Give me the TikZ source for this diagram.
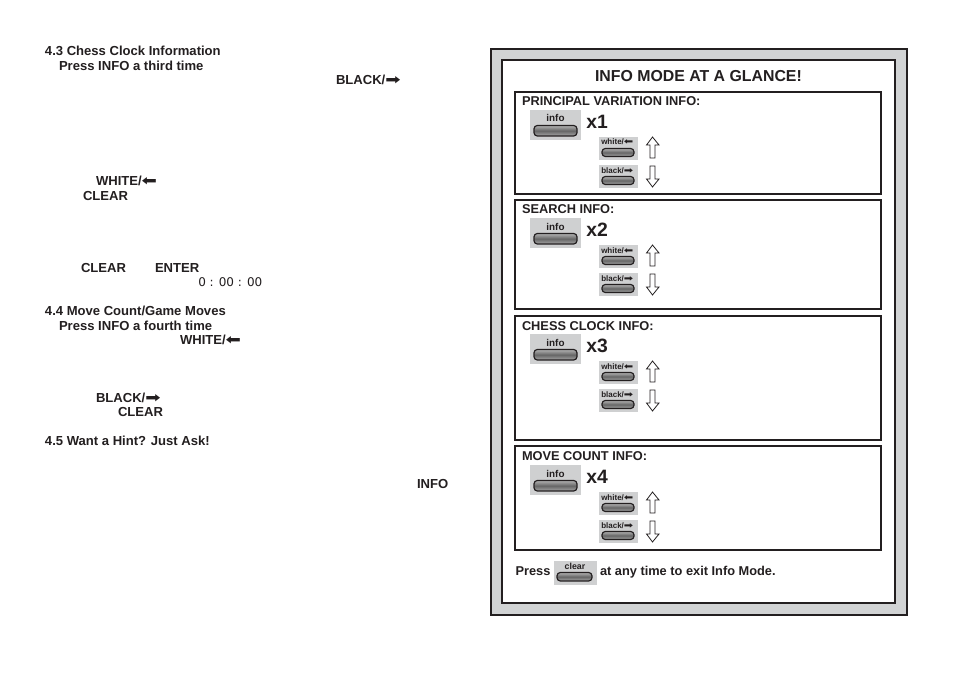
\documentclass[tikz,border=0pt]{standalone}
\usepackage{graphicx}
\usepackage{fontspec}
\setmainfont{Liberation Sans}
\newfontfamily\symf{DejaVu Sans}
\newfontfamily\lcdf{DejaVu Sans}
\definecolor{panelgray}{HTML}{D1D3D4}
\definecolor{btngray}{HTML}{CFD0D1}
\definecolor{inkk}{HTML}{231F20}
\tikzset{
  x=0.75pt,y=-0.75pt,
  txt/.style={anchor=base west,inner sep=0pt,outer sep=0pt,font=\bfseries\fontsize{9.8}{11}\selectfont,text=inkk},
  paneltitle/.style={txt,font=\bfseries\fontsize{9.6}{11}\selectfont},
  pane/.style={draw=inkk,line width=0.9pt,fill=white},
  btnbg/.style={fill=btngray,draw=none},
  btnbar/.style={draw=inkk,line width=0.9pt,rounded corners=2.5pt,top color=gray!60,bottom color=gray!70,middle color=black!60},
  btnlab/.style={anchor=base,inner sep=0pt,font=\bfseries\fontsize{7.4}{8}\selectfont,text=inkk},
  btnlabs/.style={anchor=base west,inner sep=0pt,font=\bfseries\fontsize{6}{7}\selectfont,text=inkk},
  hollow/.style={draw=inkk,line width=0.6pt,fill=white},
}
\newcommand{\larr}{\scalebox{1.4}[1.05]{\symf\char"2B05}}
\newcommand{\rarr}{\scalebox{1.4}[1.05]{\symf\char"27A1}}
% large info button at top y
\newcommand{\infobtn}[3]{%
  \fill[btnbg] (530,#1) rectangle (581,#1+30);
  \node[btnlab] (#2lab) at (555.5,#1+12) {info};
  \draw[btnbar] (534,#1+15.5) rectangle (577,#1+26);
  \node[anchor=base west,inner sep=0pt,font=\bfseries\fontsize{14.5}{16}\selectfont,text=inkk] (#2x) at (586,#1+18) {#3};
}
\newcommand{\smallbtn}[3]{%
  \fill[btnbg] (599,#1) rectangle (638,#1+23);
  \node[btnlabs] (#2) at (601,#1+8) {#3};
  \draw[btnbar] (602,#1+11.5) rectangle (634,#1+19.5);
}
\newcommand{\uparr}[1]{%
  \draw[hollow,line join=miter] (652.5,#1) -- (659,#1+8) -- (655,#1+8) -- (655,#1+21) -- (650,#1+21) -- (650,#1+8) -- (646.5,#1+8) -- cycle;
}
\newcommand{\dnarr}[1]{%
  \draw[hollow,line join=miter] (652.5,#1+21) -- (659,#1+13) -- (655,#1+13) -- (655,#1) -- (650,#1) -- (650,#1+13) -- (646.5,#1+13) -- cycle;
}
\newcommand{\pgroup}[3]{%
  \infobtn{#1}{#2}{#3}
  \smallbtn{#1+27}{#2w}{white/\larr}
  \uparr{#1+27}
  \smallbtn{#1+55}{#2b}{black/\rarr}
  \dnarr{#1+56}
}
\begin{document}
\begin{tikzpicture}
\useasboundingbox (0,0) rectangle (954,674);
\fill[white] (0,0) rectangle (954,674);
% left column
\node[txt] (t1) at (45,55.5) {4.3 Chess Clock Information};
\node[txt] (t2) at (59,70.5) {Press INFO a third time};
\node[txt] (t3) at (336,84.5) {BLACK/\rarr};
\node[txt] (t4) at (96,185.5) {WHITE/\larr};
\node[txt] (t5) at (83,200.5) {CLEAR};
\node[txt] (t6) at (81,272.5) {CLEAR};
\node[txt] (t7) at (155,272.5) {ENTER};
\node[anchor=base west,inner sep=0pt,font=\lcdf\fontsize{9}{10}\selectfont,text=inkk] (t8) at (198,286) {0 : 00 : 00};
\node[txt] (t9) at (45,315.5) {4.4 Move Count/Game Moves};
\node[txt] (t10) at (59,330.5) {Press INFO a fourth time};
\node[txt] (t11) at (180,344.5) {WHITE/\larr};
\node[txt] (t12) at (96,402.5) {BLACK/\rarr};
\node[txt] (t13) at (118,416.5) {CLEAR};
\node[txt] (t14) at (45,445.5) {4.5 Want a Hint? Just Ask!};
\node[txt] (t15) at (417,488.5) {INFO};
% frame
\draw[fill=panelgray,draw=inkk,line width=2pt] (491,49) rectangle (907,615);
\draw[fill=white,draw=inkk,line width=1.3pt] (502,60) rectangle (895,603);
\node[txt,font=\bfseries\fontsize{11.9}{13}\selectfont] (title) at (595,82) {INFO MODE AT A GLANCE!};
% panels
\draw[pane] (515,92) rectangle (881,194);
\draw[pane] (515,200) rectangle (881,309);
\draw[pane] (515,316) rectangle (881,440);
\draw[pane] (515,446) rectangle (881,550);
\node[paneltitle] (p1) at (522,106) {PRINCIPAL VARIATION INFO:};
\node[paneltitle] (p2) at (522,214) {SEARCH INFO:};
\node[paneltitle] (p3) at (522,330) {CHESS CLOCK INFO:};
\node[paneltitle] (p4) at (522,460) {MOVE COUNT INFO:};
\pgroup{110}{a}{x1}
\pgroup{218}{b}{x2}
\pgroup{334}{c}{x3}
\pgroup{465}{d}{x4}
% bottom line
\node[paneltitle] (press) at (515.5,575) {Press};
\fill[btnbg] (554,561) rectangle (597,585);
\node[btnlab,font=\bfseries\fontsize{6.6}{7}\selectfont] (clr) at (575,569) {clear};
\draw[btnbar] (557,572.5) rectangle (592,581);
\node[paneltitle] (rest) at (600,575) {at any time to exit Info Mode.};
\end{tikzpicture}
\end{document}
